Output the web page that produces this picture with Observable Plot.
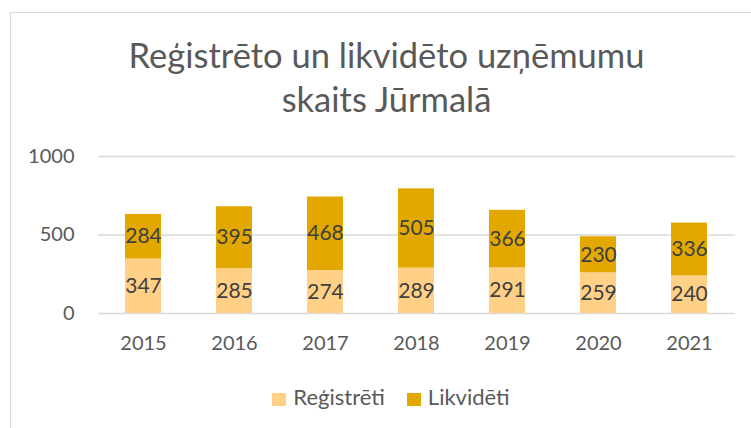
<!DOCTYPE html>
<html><head><meta charset="utf-8">
<script src="https://cdn.jsdelivr.net/npm/d3@7"></script>
<script src="https://cdn.jsdelivr.net/npm/@observablehq/plot@0.6"></script>
<style>
body{margin:0;width:751px;height:428px;overflow:hidden;background:#fff;font-family:Lato,"Open Sans",sans-serif;position:relative}
#frame{position:absolute;left:10px;top:12px;width:800px;height:500px;border:1.5px solid #d9d9d9;box-sizing:border-box}
#title{position:absolute;left:10px;width:753px;top:33px;text-align:center;color:#595959;font-size:34.5px;line-height:44px}
#chart{position:absolute;left:0;top:0}
#legend{position:absolute;left:0;width:782px;top:383px;text-align:center;color:#595959;font-size:22px;line-height:28px}
#legend span.item{display:inline-block;margin:0 11px}
#legend span.sw{display:inline-block;width:14px;height:13px;margin-right:7px;vertical-align:-1px}
</style></head>
<body>
<div id="frame"></div>
<div id="title">Reģistrēto un likvidēto uzņēmumu<br>skaits Jūrmalā</div>
<div id="chart"></div>
<div id="legend"></div>
<script>
const years = ["2015","2016","2017","2018","2019","2020","2021"];
const registreti = [347,285,274,289,291,259,240];
const likvideti = [284,395,468,505,366,230,336];
const seriesNames = ["Reģistrēti","Likvidēti"];
const seriesColors = ["#FFD085","#E2A800"];
const yTicks = [0,500,1000];

const data = [];
years.forEach((y,i)=>{
  data.push({year:y, series:seriesNames[0], value:registreti[i]});
  data.push({year:y, series:seriesNames[1], value:likvideti[i]});
});

const chart = Plot.plot({
  width:751, height:428,
  marginTop:156, marginBottom:115, marginLeft:98, marginRight:16,
  style:{fontFamily:"Lato, 'Open Sans', sans-serif", background:"transparent"},
  x:{type:"band", domain:years, paddingInner:0.6, paddingOuter:0.3, label:null},
  y:{domain:[0,1000], label:null},
  color:{domain:seriesNames, range:seriesColors},
  marks:[
    Plot.gridY(yTicks,{stroke:"#d9d9d9", strokeWidth:1.6, strokeOpacity:1}),
    Plot.barY(data, Plot.stackY({x:"year", y:"value", z:"series", fill:"series", order:seriesNames})),
    Plot.text(data, Plot.stackY({x:"year", y:"value", z:"series", order:seriesNames, text:d=>String(d.value), fill:"#404040", fontSize:21})),
    Plot.axisY({ticks:yTicks, tickFormat:d=>String(d), tickSize:0, tickPadding:24, fontSize:20, color:"#595959", label:null}),
    Plot.axisX({tickSize:0, tickPadding:22, fontSize:20, color:"#595959", label:null})
  ]
});
document.getElementById("chart").appendChild(chart);

const lg = document.getElementById("legend");
seriesNames.forEach((n,i)=>{
  const it = document.createElement("span"); it.className="item";
  const sw = document.createElement("span"); sw.className="sw"; sw.style.background=seriesColors[i];
  it.appendChild(sw); it.appendChild(document.createTextNode(n));
  lg.appendChild(it);
});
</script>
</body></html>
